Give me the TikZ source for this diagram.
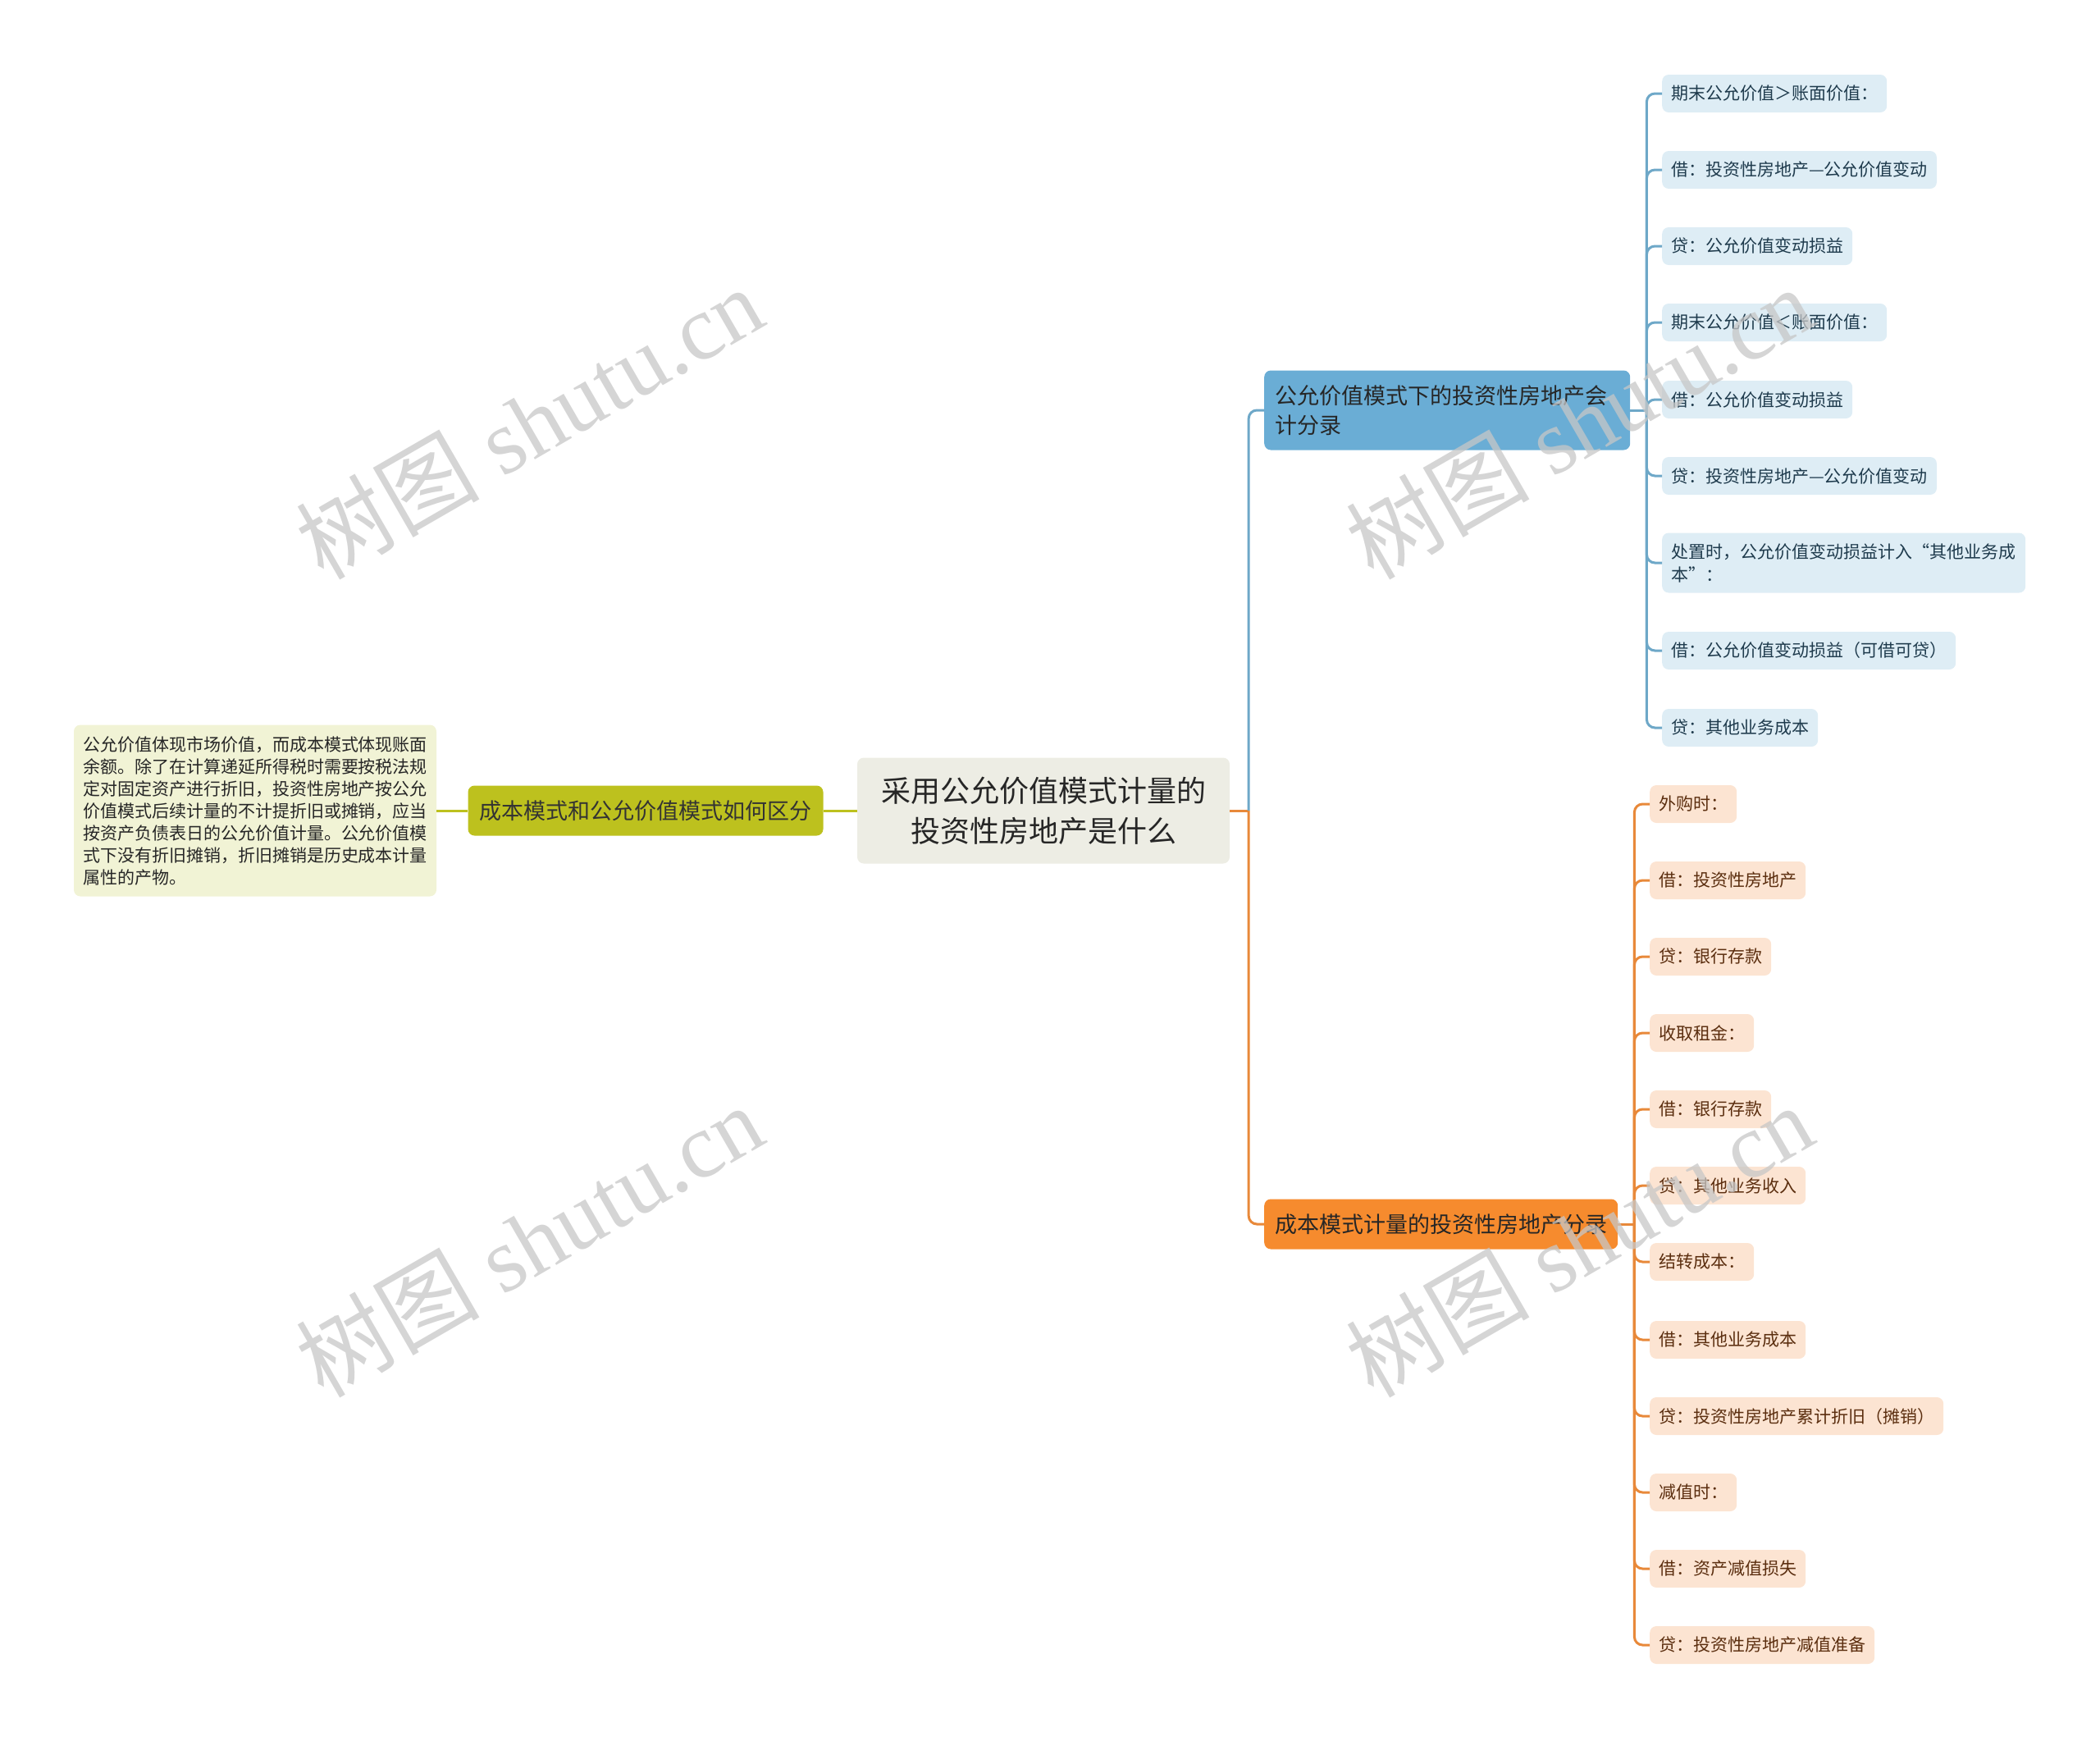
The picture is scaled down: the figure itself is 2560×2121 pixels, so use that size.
\documentclass[tikz,border=0pt]{standalone}
\usepackage{fontspec}
\setmainfont{Noto Sans CJK SC}
\newfontfamily\wmfont{Liberation Serif}
\newfontfamily\cjk{Noto Sans CJK SC}
\usepackage{tikz}

\definecolor{rootfill}{HTML}{EDEDE4}
\definecolor{olivefill}{HTML}{BDC11E}
\definecolor{notefill}{HTML}{F1F3D5}
\definecolor{bluefill}{HTML}{6AADD5}
\definecolor{blueline}{HTML}{6EA8C8}
\definecolor{blueleaf}{HTML}{DEEDF5}
\definecolor{bluetext}{HTML}{1F3B4D}
\definecolor{orangefill}{HTML}{F68B2E}
\definecolor{orangeline}{HTML}{E8893A}
\definecolor{orangeleaf}{HTML}{FCE4D2}
\definecolor{orangetext}{HTML}{5B2E0F}

\newcommand{\wmtext}{{\cjk 树图} shutu.cn}

\begin{document}
\begin{tikzpicture}[x=1pt,y=-1pt,
    box/.style={rounded corners=8pt,inner sep=0pt},
    rootbox/.style={box,fill=rootfill,text=black!85,align=center,minimum width=454pt,minimum height=129pt,font=\fontsize{36}{49}\selectfont},
    mainbox/.style={box,anchor=west,inner xsep=13pt,minimum height=61pt,font=\fontsize{27}{36}\selectfont},
    leaf/.style={box,anchor=west,inner xsep=11pt,minimum height=46pt,font=\fontsize{21}{28}\selectfont},
    bleaf/.style={leaf,fill=blueleaf,text=bluetext},
    oleaf/.style={leaf,fill=orangeleaf,text=orangetext},
    bline/.style={draw=blueline,line width=3pt,rounded corners=10pt},
    oline/.style={draw=orangeline,line width=3pt,rounded corners=10pt},
    gline/.style={draw=olivefill,line width=3pt},
    mark text/.style={text=black!22,opacity=0.75,rotate=30,font=\fontsize{112}{112}\wmfont}]

\useasboundingbox (0,0) rectangle (2560,2121);

% middle
\node[rootbox] (root) at (1272,988) {采用公允价值模式计量的\\投资性房地产是什么};

% left side
\node[mainbox,anchor=center,fill=olivefill,text=black!80,inner xsep=14pt] (cmp) at (787,988) {成本模式和公允价值模式如何区分};
\node[box,fill=notefill,text=black!85,inner xsep=11pt,text width=420pt,minimum height=209pt,align=left,
      font=\fontsize{21}{27}\selectfont] (note) at (311,988)
  {公允价值体现市场价值，而成本模式体现账面\\余额。除了在计算递延所得税时需要按税法规\\定对固定资产进行折旧，投资性房地产按公允\\价值模式后续计量的不计提折旧或摊销，应当\\按资产负债表日的公允价值计量。公允价值模\\式下没有折旧摊销，折旧摊销是历史成本计量\\属性的产物。};

% right side
\node[mainbox,fill=bluefill,text=black!85,text width=420pt,align=left,minimum height=97pt] (fair) at (1541,500)
  {公允价值模式下的投资性房地产会\\计分录};
\node[mainbox,fill=orangefill,text=black!85] (cost) at (1541,1492) {成本模式计量的投资性房地产分录};

\node[bleaf] (b1) at (2026,114) {期末公允价值＞账面价值：};
\node[bleaf] (b2) at (2026,207) {借：投资性房地产—公允价值变动};
\node[bleaf] (b3) at (2026,300) {贷：公允价值变动损益};
\node[bleaf] (b4) at (2026,393) {期末公允价值＜账面价值：};
\node[bleaf] (b5) at (2026,487) {借：公允价值变动损益};
\node[bleaf] (b6) at (2026,580) {贷：投资性房地产—公允价值变动};
\node[bleaf,text width=421pt,align=left,minimum height=73pt] (b7) at (2026,686)
  {处置时，公允价值变动损益计入“其他业务成\\本”：};
\node[bleaf] (b8) at (2026,793) {借：公允价值变动损益（可借可贷）};
\node[bleaf] (b9) at (2026,887) {贷：其他业务成本};

\node[oleaf] (o1) at (2011,980) {外购时：};
\node[oleaf] (o2) at (2011,1073) {借：投资性房地产};
\node[oleaf] (o3) at (2011,1166) {贷：银行存款};
\node[oleaf] (o4) at (2011,1259) {收取租金：};
\node[oleaf] (o5) at (2011,1352) {借：银行存款};
\node[oleaf] (o6) at (2011,1445) {贷：其他业务收入};
\node[oleaf] (o7) at (2011,1538) {结转成本：};
\node[oleaf] (o8) at (2011,1633) {借：其他业务成本};
\node[oleaf] (o9) at (2011,1726) {贷：投资性房地产累计折旧（摊销）};
\node[oleaf] (o10) at (2011,1819) {减值时：};
\node[oleaf] (o11) at (2011,1912) {借：资产减值损失};
\node[oleaf] (o12) at (2011,2005) {贷：投资性房地产减值准备};

% connectors
\draw[gline] (root.west) -- (cmp.east);
\draw[gline] (cmp.west) -- (note.east);

\path (root.east) -- ++(23,0) coordinate (rs);
\path (fair.east) -- ++(20,0) coordinate (fs);
\path (cost.east) -- ++(20,0) coordinate (cs);

\draw[oline] (root.east) -- (rs);
\draw[bline] (rs) |- (fair.west);
\draw[oline] (rs) |- (cost.west);

\draw[bline] (fair.east) -- (fs);
\draw[bline] (fs) |- (b1.west);
\draw[bline] (fs) |- (b2.west);
\draw[bline] (fs) |- (b3.west);
\draw[bline] (fs) |- (b4.west);
\draw[bline] (fs) |- (b5.west);
\draw[bline] (fs) |- (b6.west);
\draw[bline] (fs) |- (b7.west);
\draw[bline] (fs) |- (b8.west);
\draw[bline] (fs) |- (b9.west);

\draw[oline] (cost.east) -- (cs);
\draw[oline] (cs) |- (o1.west);
\draw[oline] (cs) |- (o2.west);
\draw[oline] (cs) |- (o3.west);
\draw[oline] (cs) |- (o4.west);
\draw[oline] (cs) |- (o5.west);
\draw[oline] (cs) |- (o6.west);
\draw[oline] (cs) |- (o7.west);
\draw[oline] (cs) |- (o8.west);
\draw[oline] (cs) |- (o9.west);
\draw[oline] (cs) |- (o10.west);
\draw[oline] (cs) |- (o11.west);
\draw[oline] (cs) |- (o12.west);

% watermarks
\node[mark text] (wm1) at (645,515) {\wmtext};
\node[mark text] (wm2) at (645,1512) {\wmtext};
\node[mark text] (wm3) at (1925,515) {\wmtext};
\node[mark text] (wm4) at (1925,1512) {\wmtext};
\end{tikzpicture}
\end{document}
